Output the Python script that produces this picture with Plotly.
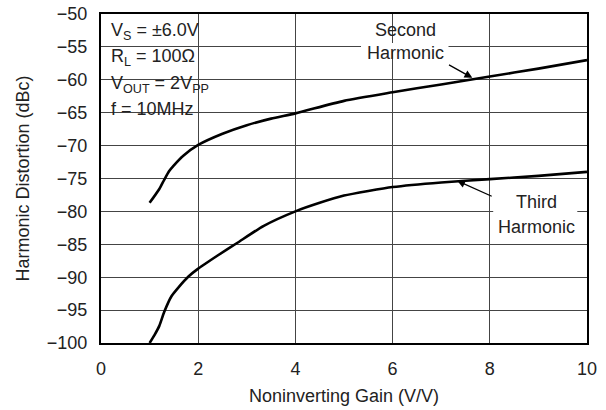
import plotly.graph_objects as go

# Data
gain_second = [1.0, 1.2, 1.3, 1.4, 1.5, 1.7, 2.0, 2.5, 3.0, 3.5, 4.0, 5.0, 6.0, 7.0, 8.0, 9.0, 10.0]
second_harmonic = [-78.7, -76.6, -75.2, -73.9, -73.0, -71.5, -69.9, -68.2, -66.9, -65.9, -65.1,
                   -63.2, -61.9, -60.7, -59.5, -58.3, -57.0]

gain_third = [1.0, 1.1, 1.2, 1.3, 1.45, 1.6, 1.8, 2.0, 2.4, 2.8, 3.35, 4.0, 4.5, 5.0, 5.5, 6.0,
              7.0, 8.0, 9.0, 10.0]
third_harmonic = [-100.0, -98.8, -97.4, -95.3, -92.9, -91.5, -89.9, -88.7, -86.7, -84.8, -82.2,
                  -80.0, -78.7, -77.6, -76.9, -76.3, -75.6, -75.1, -74.6, -74.0]

x_ticks = [0, 2, 4, 6, 8, 10]
y_ticks = [-100, -95, -90, -85, -80, -75, -70, -65, -60, -55, -50]

conditions = ["V<sub>S</sub> = ±6.0V", "R<sub>L</sub> = 100Ω",
              "V<sub>OUT</sub> = 2V<sub>PP</sub>", "f = 10MHz"]

FONT = "Liberation Sans, Arial, sans-serif"
TXT = "#222222"
FS = 18

fig = go.Figure()
fig.add_trace(go.Scatter(x=gain_second, y=second_harmonic, mode="lines",
                         line=dict(color="black", width=2.6, shape="spline", smoothing=0.6),
                         showlegend=False, hoverinfo="skip"))
fig.add_trace(go.Scatter(x=gain_third, y=third_harmonic, mode="lines",
                         line=dict(color="black", width=2.6, shape="spline", smoothing=0.6),
                         showlegend=False, hoverinfo="skip"))

# white boxes interrupting the grid behind text
fig.add_shape(type="rect", xref="paper", yref="paper", x0=0, x1=0.2366, y0=0.675, y1=1,
              fillcolor="white", line=dict(width=0), layer="between")
fig.add_shape(type="rect", xref="x", yref="y", x0=5.35, x1=7.15, y0=-55.6, y1=-54.4,
              fillcolor="white", line=dict(width=0), layer="between")
fig.add_shape(type="rect", xref="x", yref="y", x0=8.07, x1=9.8, y0=-80.6, y1=-79.4,
              fillcolor="white", line=dict(width=0), layer="between")

# condition text lines
cond_y = [-52.7, -56.6, -60.7, -64.4]
for t, yy in zip(conditions, cond_y):
    fig.add_annotation(x=0.17, y=yy, xref="x", yref="y", text=t, showarrow=False,
                       xanchor="left", yanchor="middle", font=dict(family=FONT, size=FS, color=TXT))

# labels with arrows
fig.add_annotation(x=6.26, y=-52.4, text="Second", showarrow=False,
                   font=dict(family=FONT, size=FS, color=TXT))
fig.add_annotation(x=6.26, y=-55.9, text="Harmonic", showarrow=False,
                   font=dict(family=FONT, size=FS, color=TXT))
fig.add_annotation(x=7.64, y=-59.7, ax=7.13, ay=-57.6, axref="x", ayref="y", text="",
                   showarrow=True, arrowhead=2, arrowsize=1.2, arrowwidth=1.3, arrowcolor="black")

fig.add_annotation(x=8.97, y=-78.6, text="Third", showarrow=False,
                   font=dict(family=FONT, size=FS, color=TXT))
fig.add_annotation(x=8.97, y=-82.3, text="Harmonic", showarrow=False,
                   font=dict(family=FONT, size=FS, color=TXT))
fig.add_annotation(x=7.33, y=-75.35, ax=8.07, ay=-77.8, axref="x", ayref="y", text="",
                   showarrow=True, arrowhead=2, arrowsize=1.2, arrowwidth=1.3, arrowcolor="black")

fig.update_layout(
    width=606, height=410,
    margin=dict(l=101, r=19, t=14, b=67, autoexpand=False),
    paper_bgcolor="white", plot_bgcolor="white",
    font=dict(family=FONT, size=FS, color=TXT),
    hovermode=False,
)
fig.update_xaxes(range=[0, 10], tickvals=x_ticks, ticks="", showgrid=True,
                 gridcolor="#444444", gridwidth=1, showline=True, linecolor="black",
                 linewidth=2.2, mirror=True, zeroline=False, ticklabelstandoff=8,
                 automargin=False,
                 tickfont=dict(family=FONT, size=FS, color=TXT),
                 title=dict(text="Noninverting Gain (V/V)", standoff=12,
                            font=dict(family=FONT, size=FS, color=TXT)))
fig.update_yaxes(range=[-100, -50], tickvals=y_ticks, ticks="", showgrid=True,
                 gridcolor="#444444", gridwidth=1, showline=True, linecolor="black",
                 linewidth=2.2, mirror=True, zeroline=False, ticklabelstandoff=8,
                 automargin=False,
                 tickfont=dict(family=FONT, size=FS, color=TXT),
                 title=dict(text="Harmonic Distortion (dBc)", standoff=12,
                            font=dict(family=FONT, size=FS, color=TXT)))

fig.write_html("out.html", config={"displayModeBar": False, "staticPlot": True},
               post_script="document.body.style.margin='0';")
